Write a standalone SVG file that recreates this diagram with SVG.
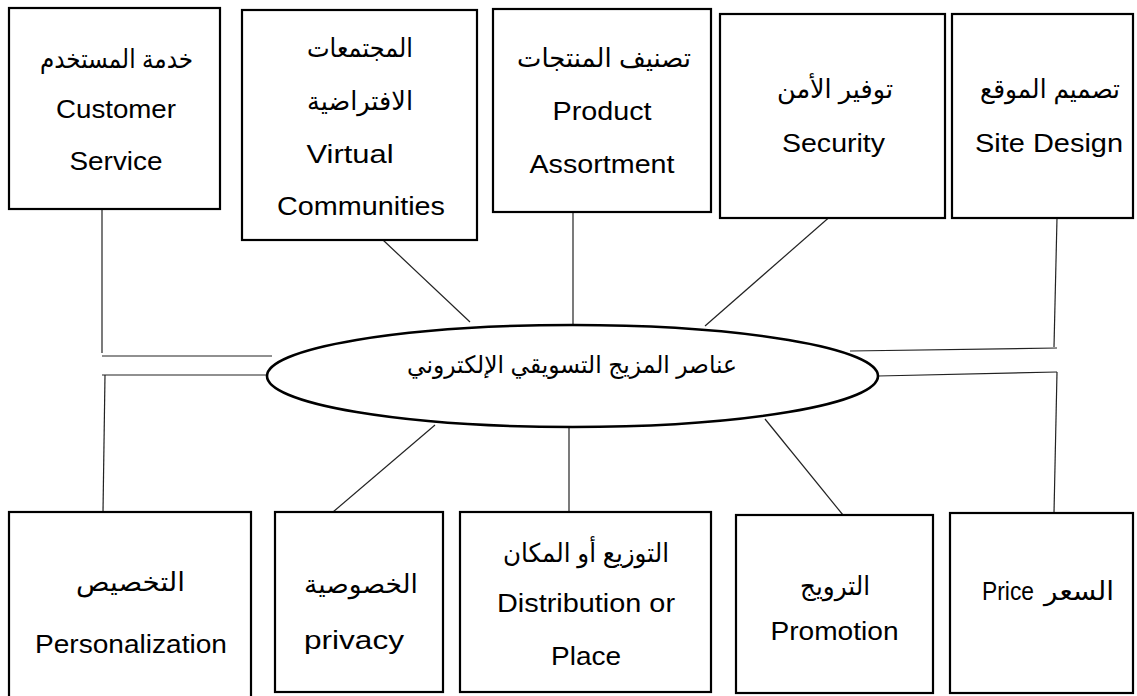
<svg xmlns="http://www.w3.org/2000/svg" width="1137" height="696" viewBox="0 0 1137 696">
<style>
.box{fill:#fff;stroke:#000;stroke-width:2.2}
.ell{fill:#fff;stroke:#000;stroke-width:2.6}
.con line{stroke:#222;stroke-width:1.2}
text{font-family:"Liberation Sans","DejaVu Sans",sans-serif;font-size:26.5px;fill:#000;text-anchor:middle}
.ar{font-size:26px}
.mid{font-size:24px}
</style>
<rect width="1137" height="696" fill="#fff"/>
<g id="connectors" class="con">
<line x1="102" y1="209" x2="102" y2="353"/>
<line x1="102" y1="356" x2="272" y2="356"/>
<line x1="102" y1="375" x2="267" y2="375"/>
<line x1="105" y1="375" x2="103" y2="512"/>
<line x1="383" y1="240" x2="470" y2="322"/>
<line x1="573" y1="212" x2="573" y2="324"/>
<line x1="833" y1="214" x2="705" y2="326"/>
<line x1="1057" y1="218" x2="1054" y2="347"/>
<line x1="850" y1="351" x2="1057" y2="348"/>
<line x1="878" y1="376" x2="1057" y2="372"/>
<line x1="1057" y1="372" x2="1054" y2="513"/>
<line x1="435" y1="425" x2="333" y2="512"/>
<line x1="569" y1="427" x2="569" y2="512"/>
<line x1="765" y1="419" x2="843" y2="515"/>
</g>
<g id="center">
<ellipse class="ell" cx="572.5" cy="376" rx="305.5" ry="51"/>
<text class="mid" x="572" y="373" textLength="330" lengthAdjust="spacingAndGlyphs">عناصر المزيج التسويقي الإلكتروني</text>
</g>
<g id="customer-service">
<rect class="box" x="9" y="8" width="211" height="201"/>
<text class="ar" x="116.5" y="68" textLength="153" lengthAdjust="spacingAndGlyphs">خدمة المستخدم</text>
<text x="116" y="118" textLength="120" lengthAdjust="spacingAndGlyphs">Customer</text>
<text x="116" y="170" textLength="93" lengthAdjust="spacingAndGlyphs">Service</text>
</g>
<g id="virtual-communities">
<rect class="box" x="242" y="10" width="235" height="230"/>
<text class="ar" x="360" y="57" textLength="106" lengthAdjust="spacingAndGlyphs">المجتمعات</text>
<text class="ar" x="360" y="110" textLength="106" lengthAdjust="spacingAndGlyphs">الافتراضية</text>
<text x="350" y="163" textLength="87" lengthAdjust="spacingAndGlyphs">Virtual</text>
<text x="361" y="215" textLength="168" lengthAdjust="spacingAndGlyphs">Communities</text>
</g>
<g id="product-assortment">
<rect class="box" x="493" y="9" width="218" height="203"/>
<text class="ar" x="604" y="67" textLength="174" lengthAdjust="spacingAndGlyphs">تصنيف المنتجات</text>
<text x="602" y="120" textLength="99" lengthAdjust="spacingAndGlyphs">Product</text>
<text x="602" y="173" textLength="145" lengthAdjust="spacingAndGlyphs">Assortment</text>
</g>
<g id="security">
<rect class="box" x="720" y="14" width="225" height="204"/>
<text class="ar" x="835" y="98" textLength="116" lengthAdjust="spacingAndGlyphs">توفير الأمن</text>
<text x="833.5" y="152" textLength="103" lengthAdjust="spacingAndGlyphs">Security</text>
</g>
<g id="site-design">
<rect class="box" x="952" y="14" width="181" height="204"/>
<text class="ar" x="1050" y="98" textLength="140" lengthAdjust="spacingAndGlyphs">تصميم الموقع</text>
<text x="1049" y="152" textLength="148" lengthAdjust="spacingAndGlyphs">Site Design</text>
</g>
<g id="personalization">
<rect class="box" x="9" y="512" width="242" height="190"/>
<text class="ar" x="130.5" y="591" textLength="109" lengthAdjust="spacingAndGlyphs">التخصيص</text>
<text x="131" y="653" textLength="192" lengthAdjust="spacingAndGlyphs">Personalization</text>
</g>
<g id="privacy">
<rect class="box" x="275" y="512" width="168" height="180"/>
<text class="ar" x="361" y="593" textLength="114" lengthAdjust="spacingAndGlyphs">الخصوصية</text>
<text x="354" y="649" textLength="100" lengthAdjust="spacingAndGlyphs">privacy</text>
</g>
<g id="distribution">
<rect class="box" x="460" y="512" width="251" height="180"/>
<text class="ar" x="586" y="562" textLength="166" lengthAdjust="spacingAndGlyphs">التوزيع أو المكان</text>
<text x="586" y="612" textLength="178" lengthAdjust="spacingAndGlyphs">Distribution or</text>
<text x="586" y="665" textLength="70" lengthAdjust="spacingAndGlyphs">Place</text>
</g>
<g id="promotion">
<rect class="box" x="736" y="515" width="197" height="178"/>
<text class="ar" x="835" y="595" textLength="70" lengthAdjust="spacingAndGlyphs">الترويج</text>
<text x="834.5" y="640" textLength="128" lengthAdjust="spacingAndGlyphs">Promotion</text>
</g>
<g id="price">
<rect class="box" x="950" y="513" width="183" height="180"/>
<text class="ar" x="1079" y="600" textLength="70" lengthAdjust="spacingAndGlyphs">السعر</text>
<text x="1008" y="600" textLength="52" lengthAdjust="spacingAndGlyphs">Price</text>
</g>
</svg>
